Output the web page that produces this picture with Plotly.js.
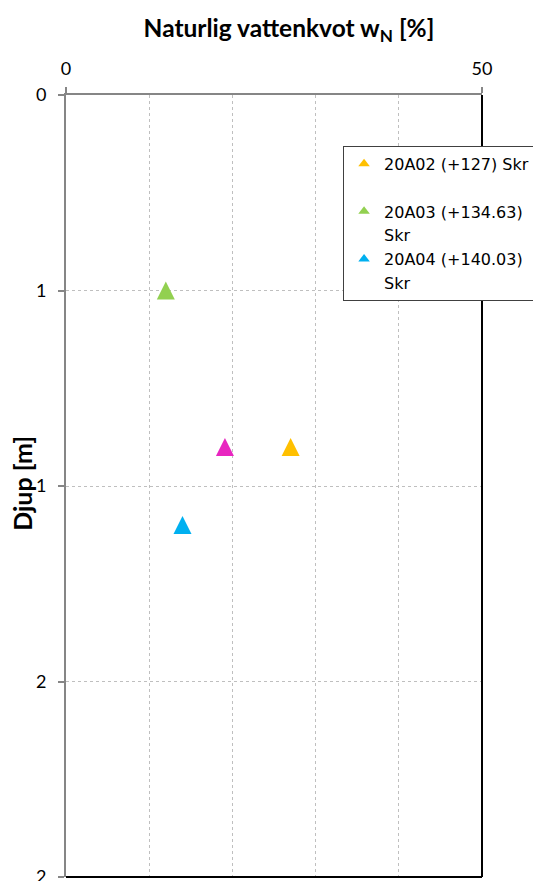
<!DOCTYPE html>
<html><head><meta charset="utf-8">
<script src="https://cdn.plot.ly/plotly-3.0.1.min.js"></script>
<style>html,body{margin:0;padding:0;background:#fff}#chart{width:533px;height:881px}</style>
</head><body><div id="chart"></div>
<script>
// Series data: water content [%] vs depth [m]
const seriesIds = ["20A02", "20A03", "20A04", "20A01"];
const seriesLine1 = ["20A02 (+127) Skr", "20A03 (+134.63)", "20A04 (+140.03)"];
const seriesLine2 = ["&nbsp;", "Skr", "Skr"];   // wrapped second legend line
const colors = ["#FFC000", "#92D050", "#00B0F0", "#E826C0"];
const w20A02 = [27.0];
const d20A02 = [0.9];
const w20A03 = [12.0];
const d20A03 = [0.5];
const w20A04 = [14.0];
const d20A04 = [1.1];
const wMagenta = [19.1];
const dMagenta = [0.9];
const xTickVals = [0, 50];
const xTickText = ["0", "50"];
const yTickVals = [0, 0.5, 1, 1.5, 2];
const yTickText = ["0", "1", "1", "2", "2"];

const FONT = "Lato, 'Open Sans', sans-serif";
const LFONT = "'DejaVu Sans', 'Open Sans', sans-serif";
const MS = 18;
// data traces (tall centred triangles)
function tr(x, y, i) {
  return {
    type: "scatter", mode: "markers", x: x, y: y, name: seriesIds[i], legendgroup: seriesIds[i],
    showlegend: false,
    marker: {symbol: "arrow-down", angle: 180, size: MS, standoff: MS / 2, color: colors[i], line: {width: 0}},
    hoverinfo: "x+y"
  };
}
// legend rows (no data drawn): symbol row + wrapped second text line
function legendRow(i, text, withSymbol) {
  return {type: "scatter", mode: "markers", x: [null], y: [null], name: text, legendgroup: seriesIds[i],
          showlegend: true, hoverinfo: "skip",
          marker: {symbol: "triangle-up", size: 10, color: withSymbol ? colors[i] : "rgba(0,0,0,0)", line: {width: 0}}};
}
const data = [
  tr(w20A02, d20A02, 0), tr(w20A03, d20A03, 1), tr(w20A04, d20A04, 2), tr(wMagenta, dMagenta, 3),
  legendRow(0, seriesLine1[0], true), legendRow(0, seriesLine2[0], false),
  legendRow(1, seriesLine1[1], true), legendRow(1, seriesLine2[1], false),
  legendRow(2, seriesLine1[2], true), legendRow(2, seriesLine2[2], false)
];
const layout = {
  width: 533, height: 881,
  margin: {l: 66, r: 51, t: 95, b: 4, autoexpand: false},
  paper_bgcolor: "#fff", plot_bgcolor: "#fff",
  font: {family: FONT, size: 18, color: "#000"},
  title: {text: "<b>Naturlig vattenkvot w<sub>N</sub> [%]</b>", font: {size: 24.5, family: FONT, color: "#000"},
          xref: "paper", x: 0.536, xanchor: "center", yref: "container", y: 0.968, yanchor: "middle"},
  xaxis: {side: "top", range: [0, 50], tickmode: "array", tickvals: xTickVals, ticktext: xTickText,
          ticks: "outside", ticklen: 6, tickcolor: "#868686", tickwidth: 2,
          showgrid: false,
          minor: {tickmode: "linear", tick0: 0, dtick: 10, showgrid: true, gridcolor: "#BFBFBF", griddash: "dot", gridwidth: 1, ticks: ""},
          showline: true, linecolor: "#868686", linewidth: 2, zeroline: false,
          ticklabelstandoff: 5, tickfont: {size: 18, family: FONT}},
  yaxis: {range: [2, 0], tickmode: "array", tickvals: yTickVals, ticktext: yTickText,
          ticks: "outside", ticklen: 6, tickcolor: "#868686", tickwidth: 2,
          showgrid: true, gridcolor: "#BFBFBF", griddash: "dot", gridwidth: 1,
          showline: true, linecolor: "#868686", linewidth: 2, zeroline: false,
          ticklabelstandoff: 8, ticklabeloverflow: "allow", tickfont: {size: 18, family: FONT}},
  annotations: [
    {text: "<b>Djup [m]</b>", xref: "paper", yref: "paper", x: -0.106, y: 0.504, xanchor: "center", yanchor: "middle",
     textangle: -90, showarrow: false, font: {size: 25, family: FONT, color: "#000"}}
  ],
  legend: {x: 0.666, xanchor: "left", y: 0.935, yanchor: "top", bgcolor: "#fff",
           bordercolor: "#404040", borderwidth: 1, itemsizing: "trace", traceorder: "normal",
           font: {size: 16, family: LFONT, color: "#000"}, tracegroupgap: 0},
  shapes: [
    {type: "line", xref: "paper", yref: "paper", x0: 1, x1: 1, y0: 0, y1: 1, line: {color: "#000", width: 2}},
    {type: "line", xref: "paper", yref: "paper", x0: 0, x1: 1, y0: 0, y1: 0, line: {color: "#000", width: 2}}
  ],
  showlegend: true
};
Plotly.newPlot("chart", data, layout, {displayModeBar: false, staticPlot: true});
</script>
</body></html>
